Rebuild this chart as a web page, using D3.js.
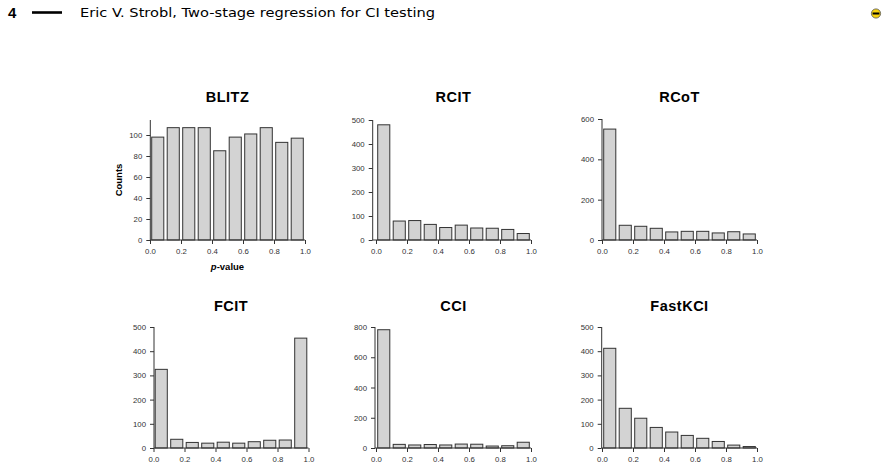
<!DOCTYPE html>
<html>
<head>
<meta charset="utf-8">
<script src="https://cdn.jsdelivr.net/npm/d3@7"></script>
<style>
  html, body { margin: 0; padding: 0; background: #fff; }
  svg { display: block; }
  .tick text { font-family: "Liberation Sans", Arial, sans-serif; font-size: 7.8px; fill: #333; }
  .tick line { stroke: #333; }
</style>
</head>
<body>
<div id="chart"></div>
<script>
// p-value bins (left edges), width 0.1
var binStarts = [0.0, 0.1, 0.2, 0.3, 0.4, 0.5, 0.6, 0.7, 0.8, 0.9];
var xTicks = [0.0, 0.2, 0.4, 0.6, 0.8, 1.0];

var panelNames = ["BLITZ", "RCIT", "RCoT", "FCIT", "CCI", "FastKCI"];

var blitzCounts   = [98, 107, 107, 107, 85, 98, 101, 107, 93, 97];
var rcitCounts    = [480, 79, 81, 65, 52, 62, 50, 49, 44, 27];
var rcotCounts    = [550, 73, 68, 58, 40, 43, 43, 35, 41, 30];
var fcitCounts    = [325, 36, 23, 20, 24, 20, 26, 32, 33, 454];
var cciCounts     = [782, 24, 20, 23, 20, 26, 25, 13, 15, 38];
var fastkciCounts = [412, 164, 123, 85, 66, 52, 40, 27, 12, 6];

var blitzTicks   = [0, 20, 40, 60, 80, 100];
var rcitTicks    = [0, 100, 200, 300, 400, 500];
var rcotTicks    = [0, 200, 400, 600];
var fcitTicks    = [0, 100, 200, 300, 400, 500];
var cciTicks     = [0, 200, 400, 600, 800];
var fastkciTicks = [0, 100, 200, 300, 400, 500];

var allCounts = [blitzCounts, rcitCounts, rcotCounts, fcitCounts, cciCounts, fastkciCounts];
var allTicks  = [blitzTicks, rcitTicks, rcotTicks, fcitTicks, cciTicks, fastkciTicks];
var yMax = [114.3, 500, 600, 500, 800, 500];

// layout of each panel (pixel positions)
var layout = [
  { x0: 150,   x1: 305,   axisX: 150.3, base: 240, top: 120, titleY: 102 },
  { x0: 376,   x1: 531,   axisX: 372.7, base: 240, top: 120, titleY: 102 },
  { x0: 602,   x1: 757,   axisX: 602,   base: 240, top: 119, titleY: 102 },
  { x0: 153.5, x1: 308.5, axisX: 154,   base: 448, top: 327, titleY: 311 },
  { x0: 376,   x1: 531,   axisX: 375,   base: 448, top: 327, titleY: 311 },
  { x0: 602,   x1: 757,   axisX: 601.7, base: 448, top: 327, titleY: 311 }
];

var W = 891, H = 470;
var svg = d3.select("#chart").append("svg").attr("width", W).attr("height", H);

// page header
var head = svg.append("g");
head.append("text").attr("x", 8).attr("y", 18)
  .style("font-family", "'Liberation Sans', Arial, sans-serif")
  .style("font-weight", "bold").style("font-size", "15px").text("4");
head.append("line").attr("x1", 32).attr("x2", 62).attr("y1", 12.5).attr("y2", 12.5)
  .attr("stroke", "#000").attr("stroke-width", 2.6);
head.append("text").attr("x", 80).attr("y", 17)
  .style("font-family", "'DejaVu Sans', sans-serif").style("font-size", "12px")
  .attr("textLength", 355).attr("lengthAdjust", "spacingAndGlyphs")
  .text("Eric V. Strobl, Two-stage regression for CI testing");
head.append("circle").attr("cx", 876).attr("cy", 13.5).attr("r", 4.6)
  .attr("fill", "#f6d20c").attr("stroke", "#555").attr("stroke-width", 0.8);
head.append("rect").attr("x", 872.6).attr("y", 12.5).attr("width", 6.8).attr("height", 2)
  .attr("fill", "#000");

panelNames.forEach(function(name, i){
  var L = layout[i];
  var counts = allCounts[i];
  var g = svg.append("g");

  var x = d3.scaleLinear().domain([0, 1]).range([L.x0, L.x1]);
  var y = d3.scaleLinear().domain([0, yMax[i]]).range([L.base, L.top]);

  g.selectAll("rect.bar").data(counts).enter().append("rect")
    .attr("class", "bar")
    .attr("x", function(d, j){ return x(binStarts[j]) + 1.7; })
    .attr("width", function(d, j){ return x(binStarts[j] + 0.1) - x(binStarts[j]) - 3.4; })
    .attr("y", function(d){ return y(d); })
    .attr("height", function(d){ return L.base - y(d); })
    .attr("fill", "#d3d3d3")
    .attr("stroke", "#333")
    .attr("stroke-width", 1);

  // axes
  var yAxis = g.append("g").attr("transform", "translate(" + L.axisX + ",0)")
    .call(d3.axisLeft(y).tickValues(allTicks[i]).tickSize(4).tickPadding(4).tickFormat(d3.format("d")));
  yAxis.select(".domain").remove();
  yAxis.append("line").attr("x1", 0).attr("x2", 0).attr("y1", L.base).attr("y2", L.top)
    .attr("stroke", "#333");

  var xAxis = g.append("g").attr("transform", "translate(0," + L.base + ")")
    .call(d3.axisBottom(x).tickValues(xTicks).tickSize(4).tickPadding(4).tickFormat(d3.format(".1f")));
  xAxis.select(".domain").remove();
  xAxis.append("line").attr("x1", L.axisX).attr("x2", L.x1).attr("y1", 0).attr("y2", 0)
    .attr("stroke", "#333");

  g.append("text")
    .attr("x", (L.x0 + L.x1) / 2).attr("y", L.titleY)
    .attr("text-anchor", "middle")
    .style("font-family", "'Liberation Sans', Arial, sans-serif")
    .style("font-weight", "bold").style("font-size", "14.5px")
    .style("letter-spacing", "0.5px")
    .text(name);

  if (i === 0) {
    var xl = g.append("text")
      .attr("x", (L.x0 + L.x1) / 2).attr("y", L.base + 29.5)
      .attr("text-anchor", "middle")
      .style("font-family", "'Liberation Sans', Arial, sans-serif")
      .style("font-weight", "bold").style("font-size", "9.5px");
    xl.append("tspan").style("font-style", "italic").text("p");
    xl.append("tspan").text("-value");

    g.append("text")
      .attr("transform", "translate(122," + ((L.base + L.top) / 2) + ") rotate(-90)")
      .attr("text-anchor", "middle")
      .style("font-family", "'Liberation Sans', Arial, sans-serif")
      .style("font-weight", "bold").style("font-size", "9.5px")
      .text("Counts");
  }
});
</script>
</body>
</html>
